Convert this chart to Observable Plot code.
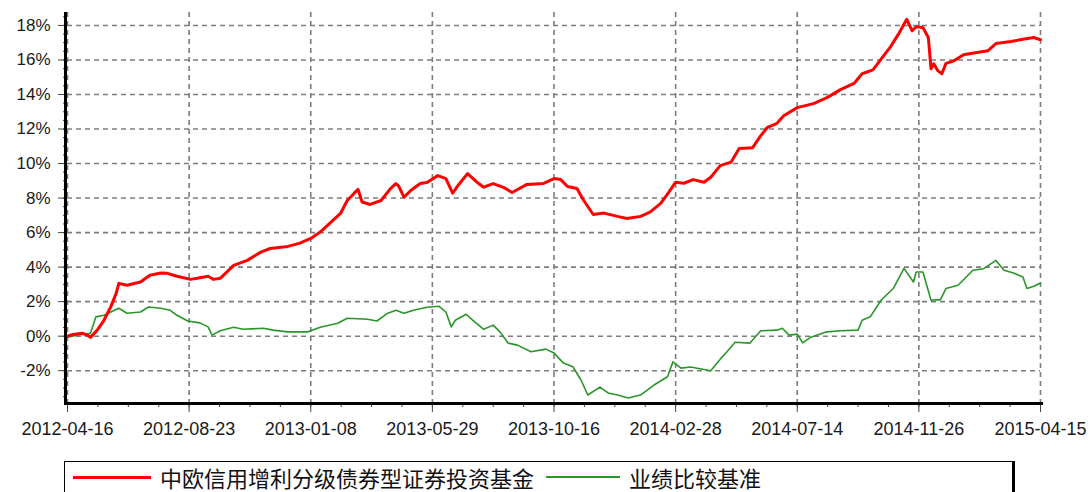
<!DOCTYPE html>
<html>
<head>
<meta charset="utf-8">
<script src="https://cdn.jsdelivr.net/npm/d3@7"></script>
<script src="https://cdn.jsdelivr.net/npm/@observablehq/plot@0.6"></script>
<style>
  body { margin: 0; background: #fff; width: 1092px; height: 492px; overflow: hidden; position: relative; font-family: "Liberation Sans", Arial, sans-serif; }
  #chart svg { display: block; }
  #legend { position: absolute; left: 64px; top: 461px; width: 951px; height: 60px; border: 1px solid #000; border-right: 3px solid #000; box-sizing: border-box; background: #fff; }
  .item { position: absolute; top: 1px; display: flex; align-items: center; font-family: "Noto Sans CJK SC", sans-serif; font-size: 22px; color: #111; line-height: 28px; }
  .swatch { display: inline-block; margin-right: 9px; }
</style>
</head>
<body>
<div id="chart"></div>
<div id="legend">
  <div class="item" style="left:8px"><span class="swatch" style="width:78px;height:3px;background:#ff0000"></span><span id="n1"></span></div>
  <div class="item" style="left:481px"><span class="swatch" style="width:74px;height:2px;background:#2a962a"></span><span id="n2"></span></div>
</div>
<script>
// Series names
const seriesNames = ["中欧信用增利分级债券型证券投资基金", "业绩比较基准"];
// X-axis tick labels (evenly spaced by trading day)
const dateLabels = ["2012-04-16","2012-08-23","2013-01-08","2013-05-29","2013-10-16","2014-02-28","2014-07-14","2014-11-26","2015-04-15"];
const yTickValues = [-2,0,2,4,6,8,10,12,14,16,18];
// Fund cumulative return (%) : [trading day index, value]
const fund = [
[0,0.00],[4,0.10],[11,0.17],[15,0.05],[17,-0.07],[22,0.35],[27,0.92],[32,1.70],[36,2.48],[38,3.06],
[44,2.95],[54,3.14],[61,3.53],[69,3.66],[74,3.64],[81,3.47],[91,3.29],[96,3.35],[104,3.47],[108,3.29],
[113,3.35],[118,3.72],[123,4.10],[133,4.39],[143,4.87],[150,5.08],[163,5.20],[172,5.39],[180,5.66],[187,6.03],
[194,6.53],[202,7.11],[207,7.86],[212,8.27],[215,8.50],[218,7.77],[224,7.63],[232,7.86],[239,8.55],[243,8.84],
[245,8.70],[249,8.05],[254,8.44],[261,8.84],[266,8.90],[274,9.30],[280,9.13],[285,8.28],[289,8.73],[296,9.42],
[303,8.92],[308,8.63],[315,8.84],[323,8.61],[329,8.32],[340,8.79],[352,8.84],[360,9.13],[365,9.07],[370,8.67],
[377,8.55],[382,7.86],[389,7.05],[397,7.13],[407,6.94],[414,6.82],[424,6.94],[431,7.19],[439,7.69],[445,8.34],
[450,8.92],[456,8.86],[463,9.07],[471,8.92],[476,9.21],[483,9.88],[491,10.08],[497,10.87],[507,10.92],[513,11.62],
[518,12.10],[525,12.33],[530,12.77],[540,13.24],[552,13.47],[562,13.82],[572,14.28],[582,14.64],[588,15.20],[596,15.43],
[603,16.15],[609,16.76],[615,17.51],[621,18.36],[625,17.69],[628,17.92],[633,17.88],[637,17.30],[639,15.49],[641,15.78],
[644,15.38],[647,15.20],[650,15.80],[656,15.95],[663,16.30],[673,16.43],[681,16.53],[687,16.95],[698,17.07],[707,17.20],
[715,17.30],[720,17.17]
];
// Benchmark cumulative return (%)
const bench = [
[0,-0.06],[7,0.06],[17,0.17],[21,1.12],[27,1.21],[32,1.40],[38,1.62],[44,1.33],[54,1.40],[60,1.69],
[69,1.62],[76,1.50],[81,1.21],[89,0.88],[98,0.77],[104,0.54],[107,0.06],[113,0.31],[123,0.52],[130,0.40],
[145,0.46],[152,0.35],[163,0.25],[178,0.25],[187,0.52],[200,0.75],[207,1.04],[222,0.98],[229,0.88],[237,1.33],
[243,1.50],[249,1.33],[256,1.50],[266,1.68],[275,1.73],[280,1.40],[284,0.54],[287,0.92],[295,1.27],[300,0.92],
[308,0.40],[315,0.64],[320,0.25],[326,-0.40],[333,-0.52],[343,-0.90],[354,-0.75],[360,-0.98],[367,-1.56],[374,-1.77],
[380,-2.54],[385,-3.41],[394,-2.95],[400,-3.29],[407,-3.41],[415,-3.58],[424,-3.41],[434,-2.83],[444,-2.35],[448,-1.49],
[454,-1.85],[461,-1.79],[476,-2.00],[483,-1.33],[488,-0.90],[494,-0.35],[505,-0.40],[513,0.31],[525,0.35],[529,0.46],
[534,0.06],[540,0.12],[544,-0.39],[550,-0.06],[562,0.25],[572,0.31],[585,0.35],[588,0.92],[594,1.12],[602,2.08],
[611,2.76],[619,3.93],[626,3.14],[628,3.72],[633,3.72],[639,2.08],[646,2.12],[650,2.76],[659,2.95],[670,3.82],
[678,3.91],[687,4.39],[693,3.82],[700,3.66],[707,3.43],[710,2.76],[715,2.89],[720,3.08]
];

document.getElementById("n1").textContent = seriesNames[0];
document.getElementById("n2").textContent = seriesNames[1];

const step = 90;
const lastDay = (dateLabels.length - 1) * step;
const xMajor = dateLabels.map((d, i) => i * step);
const xMinor = d3.range(0, lastDay + 0.01, step / 4);
const yMin = -3.9, yMax = 18.75;
const yMinor = d3.range(-3.5, 18.51, 0.5);
const grid = {stroke: "#7d7d7d", strokeOpacity: 1, strokeDasharray: "5,4", strokeWidth: 1.6};

const chart = Plot.plot({
  width: 1092,
  height: 450,
  marginLeft: 67,
  marginRight: 52,
  marginTop: 12,
  marginBottom: 47,
  style: {fontFamily: "'Liberation Sans', Arial, sans-serif", color: "#1a1a1a", background: "#fff"},
  x: {domain: [0, lastDay]},
  y: {domain: [yMin, yMax]},
  marks: [
    Plot.gridY(yTickValues, grid),
    Plot.gridX(xMajor, grid),
    Plot.axisY({ticks: yMinor, tickSize: 4, text: null, label: null, stroke: "#444"}),
    Plot.axisY({ticks: yTickValues, tickSize: 9, tickPadding: 8, tickFormat: d => d + "%", label: null, fontSize: 17, stroke: "#444"}),
    Plot.axisX({ticks: xMinor, tickSize: 4, text: null, label: null, stroke: "#444"}),
    Plot.axisX({ticks: xMajor, tickSize: 9, tickPadding: 10, tickFormat: d => dateLabels[Math.round(d / step)], label: null, fontSize: 18, stroke: "#444", style: {letterSpacing: "0.4px"}}),
    Plot.line(bench, {x: d => d[0], y: d => d[1], stroke: "#2a962a", strokeWidth: 1.6}),
    Plot.line(fund, {x: d => d[0], y: d => d[1], stroke: "#ff0000", strokeWidth: 3}),
    Plot.ruleX([0], {dx: -2, stroke: "#000", strokeWidth: 3, y1: yMin, y2: yMax}),
    Plot.ruleY([yMin], {stroke: "#000", strokeWidth: 3, insetLeft: -3, insetRight: -3})
  ]
});
document.getElementById("chart").appendChild(chart);
</script>
</body>
</html>
